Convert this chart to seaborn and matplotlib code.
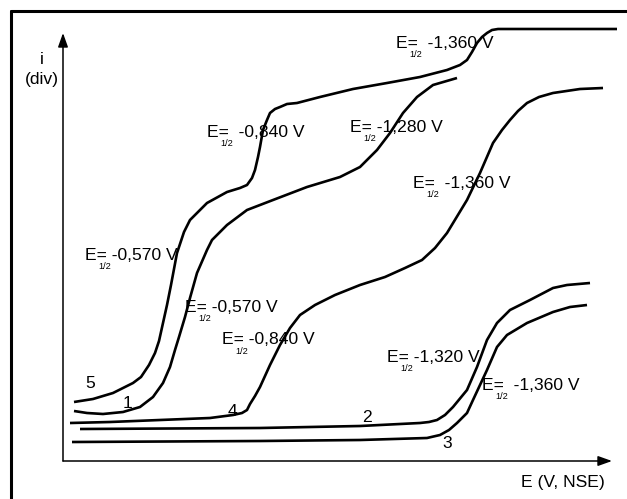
import matplotlib
matplotlib.use("Agg")
import matplotlib.pyplot as plt
import seaborn as sns
import pandas as pd
from matplotlib.lines import Line2D

# polarogram curves (E in arbitrary units along the axis, i in div)
e_5 = [11, 30, 50, 70, 78, 86, 92, 96, 100, 104, 108, 114, 121, 127, 144, 164, 177, 184, 189, 192,
       195, 197, 200, 204, 207, 212, 217, 224, 234, 257, 290, 324, 357, 384, 397, 404, 409, 414,
       419, 424, 429, 435, 477, 554]
i_5 = [59, 62, 68, 78, 84, 96, 108, 120, 138, 156, 176, 208, 229, 241, 258, 269, 273, 276, 283, 291,
       304, 314, 331, 341, 348, 352, 354, 357, 358, 364, 372, 378, 384, 391, 396, 401, 409, 418,
       424, 428, 431, 432, 432, 432]

e_1 = [11, 24, 40, 60, 77, 90, 100, 107, 112, 116, 122, 127, 134, 144, 149, 164, 184, 210, 244, 277,
       297, 314, 327, 340, 354, 370, 394]
i_1 = [50, 48, 47, 49, 54, 64, 78, 94, 111, 124, 144, 163, 188, 211, 221, 236, 251, 261, 274, 284,
       294, 311, 328, 348, 364, 376, 383]

e_4 = [7, 47, 97, 147, 170, 179, 184, 187, 192, 197, 207, 217, 227, 237, 252, 272, 297, 322, 342,
       359, 372, 384, 404, 417, 430, 439, 447, 455, 464, 476, 490, 517, 540]
i_4 = [38, 39, 41, 43, 46, 48, 51, 57, 65, 74, 96, 116, 133, 146, 156, 166, 176, 184, 193,
       201, 213, 228, 261, 288, 318, 331, 341, 350, 358, 364, 368, 372, 373]

e_2 = [17, 197, 297, 357, 366, 374, 382, 390, 404, 414, 424, 434, 447, 467, 490, 504, 527]
i_2 = [32, 33, 35, 38, 39, 41, 46, 54, 71, 94, 121, 138, 151, 161, 173, 176, 178]

e_3 = [9, 197, 297, 364, 377, 386, 394, 404, 410, 424, 434, 444, 464, 490, 507, 524]
i_3 = [19, 20, 21, 23, 26, 31, 38, 48, 61, 91, 114, 126, 138, 149, 154, 156]

curve_names = ["5", "1", "4", "2", "3"]
curve_label_pos = [(27, 78), (64, 58), (170, 49), (304, 44), (384, 18)]

half_wave_values = ["-0,840 V", "-1,360 V", "-1,280 V", "-1,360 V", "-0,570 V",
                    "-0,570 V", "-0,840 V", "-1,320 V", "-1,360 V"]
half_wave_pos = [(144, 329), (333, 418), (287, 334), (350, 278), (22, 206),
                 (122, 154), (159, 121), (324, 104), (419, 76)]
half_wave_gap = [2, 2, 1, 2, 1, 1, 1, 1, 2]

frames = []
for name, e, i in zip(curve_names, [e_5, e_1, e_4, e_2, e_3], [i_5, i_1, i_4, i_2, i_3]):
    frames.append(pd.DataFrame({"E": e, "i": i, "curve": name}))
df = pd.concat(frames, ignore_index=True)

sns.set_theme(style="white")
plt.rcParams["font.family"] = ["Liberation Sans", "DejaVu Sans"]
plt.rcParams["text.color"] = "black"

W, H = 627, 499
fig = plt.figure(figsize=(W / 100, H / 100), dpi=100)
ax = fig.add_axes([63 / W, (H - 461) / H, 549 / W, 428 / H])

for name in curve_names:
    sub = df[df["curve"] == name]
    sns.lineplot(data=sub, x="E", y="i", sort=False, color="black", linewidth=1.9,
                 ax=ax, legend=False, clip_on=False, solid_joinstyle="round",
                 solid_capstyle="butt")

ax.set_xlim(0, 549)
ax.set_ylim(0, 428)
ax.set_xticks([])
ax.set_yticks([])
ax.set_xlabel("")
ax.set_ylabel("")
for s in ax.spines.values():
    s.set_visible(False)

# axes with arrows
arrow = dict(arrowstyle="-|>,head_length=0.7,head_width=0.25", color="black", lw=1.1,
             shrinkA=0, shrinkB=0)
ax.annotate("", xy=(0, 1), xytext=(0, 0), xycoords="axes fraction", arrowprops=arrow)
ax.annotate("", xy=(1, 0), xytext=(0, 0), xycoords="axes fraction", arrowprops=arrow)

fs = 12.6
for name, (x, y) in zip(curve_names, curve_label_pos):
    ax.text(x, y, name, fontsize=fs, ha="center", va="center", color="black")

for val, (x, y), gap in zip(half_wave_values, half_wave_pos, half_wave_gap):
    ax.text(x, y, "E=" + " " * gap + val, fontsize=fs, ha="left", va="center", color="black")
    ax.annotate("1/2", xy=(x, y), xytext=(14, -8), textcoords="offset points",
                fontsize=6.6, ha="center", va="center", color="black")

fig.text(42 / W, 1 - 60 / H, "i", fontsize=fs, ha="center", va="center", color="black")
fig.text(42 / W, 1 - 80 / H, "(div)", fontsize=fs, ha="center", va="center", color="black")
fig.text(563 / W, 1 - 482 / H, "E (V, NSE)", fontsize=fs, ha="center", va="center", color="black")

# outer frame (only top and left edges fall inside the picture)
fig.add_artist(Line2D([10.5 / W, 10.5 / W], [0, 1 - 11 / H], color="black", lw=2.2))
fig.add_artist(Line2D([10.5 / W, 1], [1 - 11 / H, 1 - 11 / H], color="black", lw=2.2))

fig.savefig("out.png", dpi=100)
